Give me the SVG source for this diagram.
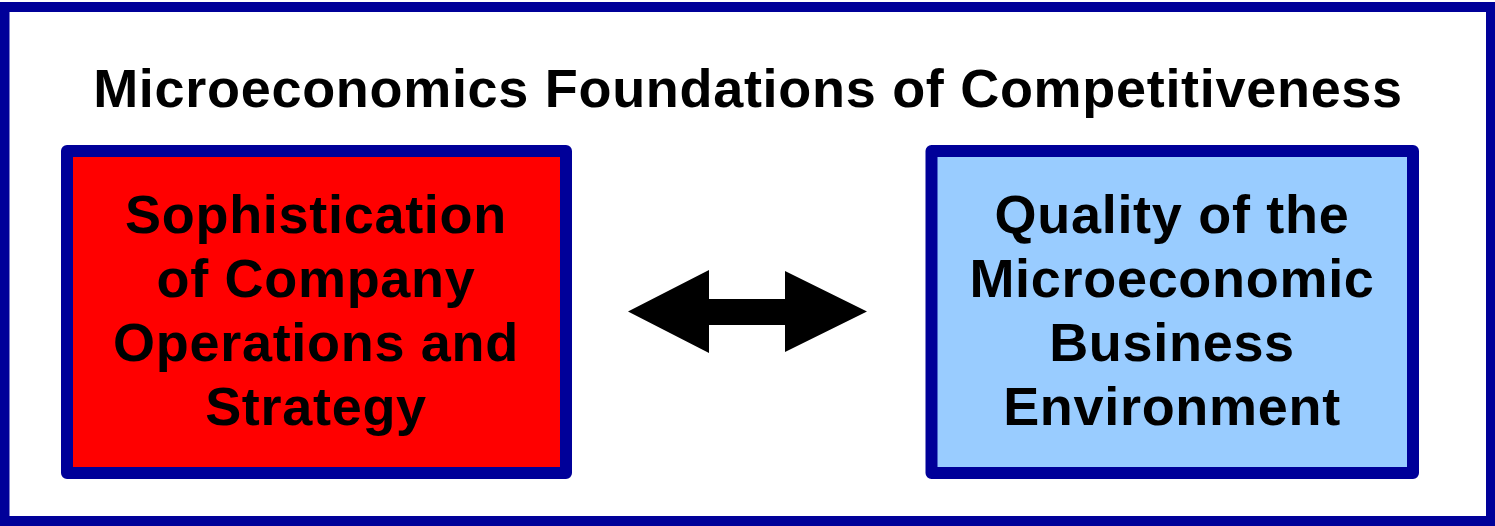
<svg xmlns="http://www.w3.org/2000/svg" width="1495" height="526" viewBox="0 0 1495 526">
<style>
.t{font-family:"Liberation Sans",Arial,sans-serif;font-weight:bold;font-size:54px;fill:#000;text-anchor:middle;letter-spacing:0.7px}
.box{stroke:#000099;stroke-width:12;stroke-linejoin:round}
</style>
<rect x="0" y="0" width="1495" height="526" fill="#fff"/>
<g id="frame">
<rect x="4.5" y="7" width="1486.5" height="514" fill="#fff" stroke="#000099" stroke-width="10"/>
<text class="t" x="748" y="107">Microeconomics Foundations of Competitiveness</text>
</g>
<g id="company">
<rect class="box" x="67" y="151" width="499" height="322" fill="#FF0000"/>
<text class="t" x="316" y="233">Sophistication</text>
<text class="t" x="316" y="297">of Company</text>
<text class="t" x="316" y="361">Operations and</text>
<text class="t" x="316" y="425">Strategy</text>
</g>
<g id="environment">
<rect class="box" x="931.5" y="151" width="481.5" height="322" fill="#99CCFF"/>
<text class="t" x="1172" y="233">Quality of the</text>
<text class="t" x="1172" y="297">Microeconomic</text>
<text class="t" x="1172" y="361">Business</text>
<text class="t" x="1172" y="425">Environment</text>
</g>
<g id="connectors">
<polygon points="628,311.5 709,270 709,299 785,299 785,271 867,311.5 785,352 785,325 709,325 709,353" fill="#000"/>
</g>
</svg>
